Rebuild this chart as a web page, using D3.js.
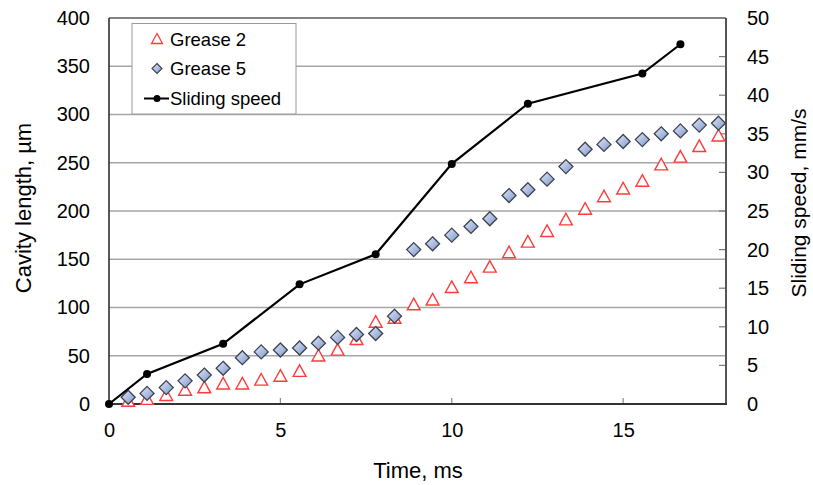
<!DOCTYPE html>
<html><head><meta charset="utf-8">
<script src="https://cdn.jsdelivr.net/npm/d3@7/dist/d3.min.js"></script>
<style>
html,body{margin:0;padding:0;background:#fff;}
text{font-family:"Liberation Sans",Arial,sans-serif;fill:#000;}
</style></head>
<body>
<svg id="chart" width="813" height="485"></svg>
<script>
// ---- data ----
const times = [0.56,1.11,1.67,2.22,2.78,3.33,3.89,4.44,5.00,5.56,6.11,6.67,7.22,7.78,8.33,8.89,
               9.44,10.00,10.56,11.11,11.67,12.22,12.78,13.33,13.89,14.44,15.00,15.56,16.11,16.67,17.22,17.78];
const grease2 = [3,5,9,14.5,17,21,21,25,29,34,50,56,67,85,89,103,108,121,131,142,157,168,179,191,202,215,223,231,248,256,267,278];
const grease5 = [7,11,17,24,30,37,48,54,56,58,63,69,72,73,91,160,166,175,184,192,216,222,233,246,264,269,272,274,280,283,289,291];
const speedTimes = [0,1.11,3.33,5.56,7.78,10.0,12.22,15.56,16.67];
const speedValues = [0,3.9,7.8,15.5,19.4,31.1,38.9,42.8,46.6];
const xTicks = [0,5,10,15];
const yLeftTicks = [0,50,100,150,200,250,300,350,400];
const yRightTicks = [0,5,10,15,20,25,30,35,40,45,50];
const seriesNames = ["Grease 2","Grease 5","Sliding speed"];
const xTitle = "Time, ms";
const yLeftTitle = "Cavity length, \u00b5m";
const yRightTitle = "Sliding speed, mm/s";

// ---- layout ----
const L = 109, R = 726, T = 18, B = 404;
const svg = d3.select("#chart");
const x = d3.scaleLinear().domain([0,18]).range([L,R]);
const yL = d3.scaleLinear().domain([0,400]).range([B,T]);
const yR = d3.scaleLinear().domain([0,50]).range([B,T]);

const defs = svg.append("defs");
const grad = defs.append("linearGradient").attr("id","dgrad")
  .attr("x1","0%").attr("y1","0%").attr("x2","100%").attr("y2","100%");
grad.append("stop").attr("offset","0%").attr("stop-color","#dfe7f6");
grad.append("stop").attr("offset","55%").attr("stop-color","#a9bbdf");
grad.append("stop").attr("offset","100%").attr("stop-color","#7d93c2");

// gridlines
svg.append("g").selectAll("line").data(yLeftTicks.filter(d=>d>0 && d<400)).join("line")
  .attr("x1",L).attr("x2",R).attr("y1",d=>yL(d)).attr("y2",d=>yL(d))
  .attr("stroke","#a6a6a6").attr("stroke-width",1.3);
// top border
svg.append("line").attr("x1",L).attr("x2",R).attr("y1",T).attr("y2",T)
  .attr("stroke","#5a5a5a").attr("stroke-width",1.5);

// x axis
const xAxis = d3.axisBottom(x).tickValues(xTicks).tickSize(0).tickPadding(19).tickFormat(d3.format("d"));
const gx = svg.append("g").attr("transform",`translate(0,${B})`).call(xAxis);
gx.select(".domain").remove();
gx.selectAll("text").attr("font-size",20).attr("font-family","Liberation Sans, Arial, sans-serif");
svg.append("g").selectAll("line").data(xTicks.filter(d=>d>0)).join("line")
  .attr("x1",d=>x(d)).attr("x2",d=>x(d)).attr("y1",B).attr("y2",B-6)
  .attr("stroke","#8c8c8c").attr("stroke-width",1.2);

// left axis
const gyl = svg.append("g").attr("transform",`translate(${L},0)`)
  .call(d3.axisLeft(yL).tickValues(yLeftTicks).tickSize(0).tickPadding(19));
gyl.select(".domain").remove();
gyl.selectAll("text").attr("font-size",20).attr("font-family","Liberation Sans, Arial, sans-serif");

// right axis
const gyr = svg.append("g").attr("transform",`translate(${R},0)`)
  .call(d3.axisRight(yR).tickValues(yRightTicks).tickSize(0).tickPadding(21));
gyr.select(".domain").remove();
gyr.selectAll("text").attr("font-size",20).attr("font-family","Liberation Sans, Arial, sans-serif");
svg.append("g").selectAll("line").data(yRightTicks.filter(d=>d>0&&d<50)).join("line")
  .attr("x1",R).attr("x2",R-7).attr("y1",d=>yR(d)).attr("y2",d=>yR(d))
  .attr("stroke","#7a7a7a").attr("stroke-width",1.2);

// axis lines
svg.append("line").attr("x1",R).attr("x2",R).attr("y1",T).attr("y2",B)
  .attr("stroke","#555").attr("stroke-width",2);
svg.append("line").attr("x1",L).attr("x2",R+1).attr("y1",B).attr("y2",B)
  .attr("stroke","#333").attr("stroke-width",2);
svg.append("line").attr("x1",L).attr("x2",L).attr("y1",T).attr("y2",B)
  .attr("stroke","#222").attr("stroke-width",1.5);

// titles
svg.append("text").attr("x",418).attr("y",478).attr("text-anchor","middle")
  .attr("font-size",22).text(xTitle);
svg.append("text").attr("transform","translate(31,208) rotate(-90)").attr("text-anchor","middle")
  .attr("font-size",22).text(yLeftTitle);
svg.append("text").attr("transform","translate(806,203) rotate(-90)").attr("text-anchor","middle")
  .attr("font-size",21).text(yRightTitle);

// markers
function triPath(){ return "M0,-6.4L6.4,5.2L-6.4,5.2Z"; }
function diaPath(){ return "M0,-7L7,0L0,7L-7,0Z"; }

svg.append("g").selectAll("path").data(times.map((t,i)=>[t,grease2[i]])).join("path")
  .attr("d",triPath).attr("transform",d=>`translate(${x(d[0])},${yL(d[1])})`)
  .attr("fill","#fff").attr("stroke","#ff3b3b").attr("stroke-width",1.4);
svg.append("g").selectAll("path").data(times.map((t,i)=>[t,grease5[i]])).join("path")
  .attr("d",diaPath).attr("transform",d=>`translate(${x(d[0])},${yL(d[1])})`)
  .attr("fill","url(#dgrad)").attr("stroke","#3d4250").attr("stroke-width",1.3);

// sliding speed line
const sp = speedTimes.map((t,i)=>[t,speedValues[i]]);
svg.append("path").datum(sp)
  .attr("d",d3.line().x(d=>x(d[0])).y(d=>yR(d[1])))
  .attr("fill","none").attr("stroke","#000").attr("stroke-width",2.2);
svg.append("g").selectAll("circle").data(sp).join("circle")
  .attr("cx",d=>x(d[0])).attr("cy",d=>yR(d[1])).attr("r",4).attr("fill","#000");

// legend
const lg = svg.append("g");
lg.append("rect").attr("x",132).attr("y",23.5).attr("width",164).attr("height",90.5)
  .attr("fill","#fff").attr("stroke","#9a9a9a").attr("stroke-width",1);
const rows = [39,68.5,98.5];
lg.append("path").attr("d","M0,-5.5L5.5,4.5L-5.5,4.5Z").attr("transform",`translate(157,${rows[0]})`)
  .attr("fill","#fff").attr("stroke","#ff3b3b").attr("stroke-width",1.3);
lg.append("path").attr("d","M0,-5L5,0L0,5L-5,0Z").attr("transform",`translate(157,${rows[1]})`)
  .attr("fill","url(#dgrad)").attr("stroke","#3d4250").attr("stroke-width",1.1);
lg.append("line").attr("x1",144).attr("x2",169).attr("y1",rows[2]).attr("y2",rows[2])
  .attr("stroke","#000").attr("stroke-width",2);
lg.append("circle").attr("cx",157).attr("cy",rows[2]).attr("r",3.5).attr("fill","#000");
lg.selectAll("text.lt").data(seriesNames).join("text").attr("class","lt")
  .attr("x",170).attr("y",(d,i)=>rows[i]+6.5).attr("font-size",18.5).text(d=>d);
</script>
</body></html>
